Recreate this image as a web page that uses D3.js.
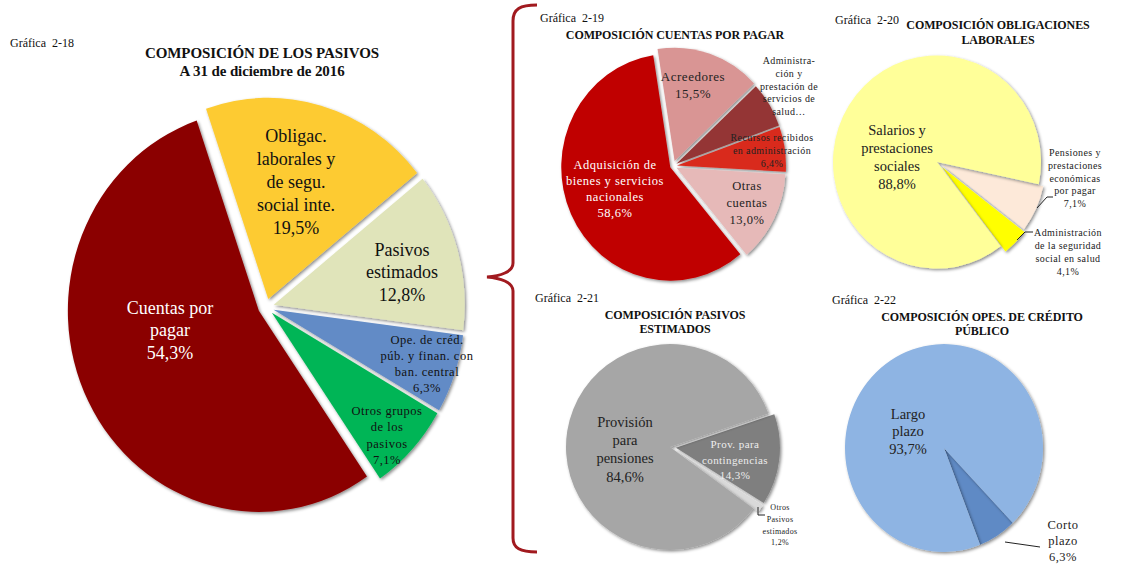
<!DOCTYPE html>
<html>
<head>
<meta charset="utf-8">
<script src="https://cdn.jsdelivr.net/npm/d3@7"></script>
<style>
  body { margin: 0; background: #fff; }
  svg { display: block; font-family: "Liberation Serif", "Times New Roman", serif; }
</style>
</head>
<body>
<div id="contentpane"></div>
<script>
//////////
// Data //
//////////

// Grafica 2-18
var pasivosCats = ["Obligac.|laborales y|de segu.|social inte.", "Pasivos|estimados", "Ope. de créd.|púb. y finan. con|ban. central", "Otros grupos|de los|pasivos", "Cuentas por|pagar"];
var pasivosVals = [19.5, 12.8, 6.3, 7.1, 54.3];

// Grafica 2-19
var cuentasCats = ["Acreedores", "Administra-|ción y|prestación de|servicios de|salud…", "Recursos recibidos|en administración", "Otras|cuentas", "Adquisición de|bienes y servicios|nacionales"];
var cuentasVals = [15.5, 6.5, 6.4, 13.0, 58.6];

// Grafica 2-20
var laboralesCats = ["Pensiones y|prestaciones|económicas|por pagar", "Administración|de la seguridad|social en salud", "Salarios y|prestaciones|sociales"];
var laboralesVals = [7.1, 4.1, 88.8];

// Grafica 2-21
var estimadosCats = ["Prov. para|contingencias", "Otros|Pasivos|estimados", "Provisión|para|pensiones"];
var estimadosVals = [14.3, 1.2, 84.6];

// Grafica 2-22
var creditoCats = ["Corto|plazo", "Largo|plazo"];
var creditoVals = [6.3, 93.7];

////////////
// Layout //
////////////

var width = 1141;
var height = 565;
var svg = d3.select("#contentpane").append("svg")
	.attr("width", width).attr("height", height);

var defs = svg.append("defs");
defs.append("filter").attr("id", "shadow")
	.attr("x", "-20%").attr("y", "-20%").attr("width", "140%").attr("height", "140%")
	.append("feDropShadow")
	.attr("dx", 1.5).attr("dy", 1.5).attr("stdDeviation", 1.6)
	.attr("flood-color", "#000").attr("flood-opacity", 0.45);

var fmt = function(v) { return d3.format(".1f")(v).replace(".", ",") + "%"; };
var rad = Math.PI / 180;

var charts = [
	{ cats: pasivosCats, vals: pasivosVals, cx: 266, cy: 307, r: 191, sy: 1.053, start: -19,
	  colors: ["#FDCB33", "#E0E4BA", "#628BC6", "#00B557", "#8B0000"],
	  explode: [8, 8, 8, 8, 8],
	  labels: [[30, -125], [136, -35], [161, 57], [121, 128], [-96, 23]],
	  size: [18, 18, 12.5, 12.5, 18], lh: [23, 22.5, 16, 16.5, 22.5],
	  fill: ["#111", "#111", "#111", "#111", "#fff"],
	  showVal: [1, 1, 1, 1, 1], leaders: [] },
	{ cats: cuentasCats, vals: cuentasVals, cx: 673, cy: 166, r: 109, sy: 1.04, start: -9,
	  colors: ["#D99594", "#943634", "#D92B1F", "#E6B9B8", "#C00000"],
	  explode: [5, 4, 4, 4, 3],
	  labels: [[20, -81], [116, -80], [99, -16], [74, 37], [-58, 23]],
	  size: [13, 10, 10, 12.5, 12.5], lh: [16.5, 12.8, 13, 17, 16],
	  fill: ["#222", "#222", "#222", "#222", "#fff"],
	  showVal: [1, 0, 1, 1, 1], leaders: [] },
	{ cats: laboralesCats, vals: laboralesVals, cx: 937, cy: 162, r: 104, sy: 1.025, start: 102,
	  colors: ["#FDE9D9", "#FFFF00", "#FFFF99"],
	  explode: [5, 7, 0],
	  labels: [[138, 16], [131, 90], [-40, -5]],
	  size: [10, 10, 14.5], lh: [12.8, 13.3, 17.8],
	  fill: ["#222", "#222", "#222"],
	  showVal: [1, 1, 1],
	  leaders: [[[100, 46], [110, 35], [116, 35]], [[80, 78], [88, 70], [96, 70]]] },
	{ cats: estimadosCats, vals: estimadosVals, cx: 670, cy: 447, r: 104, sy: 0.99, start: 71,
	  colors: ["#7F7F7F", "#D9D9D9", "#A6A6A6"],
	  explode: [6, 6, 0],
	  labels: [[65, 13], [110, 78], [-45, 2]],
	  size: [11, 8, 14.5], lh: [15.5, 11.7, 18.3],
	  fill: ["#EDEDED", "#222", "#222"],
	  showVal: [1, 1, 1],
	  leaders: [[[88, 60], [88, 68], [95, 68]]] },
	{ cats: creditoCats, vals: creditoVals, cx: 944, cy: 448, r: 99, sy: 1.05, start: 136,
	  colors: ["#5F8AC5", "#8EB4E3"],
	  explode: [0, 0],
	  labels: [[119, 93], [-36, -17]],
	  size: [12.5, 14.5], lh: [16, 17.5],
	  fill: ["#222", "#222"],
	  showVal: [1, 1],
	  leaders: [[[61, 94], [96, 99]]] }
];

var titles = [
	{ x: 10, y: 43, t: "Gráfica\u00a0\u00a02-18", s: 12, b: false },
	{ x: 262, y: 53, t: "COMPOSICIÓN DE LOS PASIVOS", s: 15, b: true, m: true },
	{ x: 262, y: 71, t: "A 31 de diciembre de 2016", s: 15, b: true, m: true },
	{ x: 540, y: 18, t: "Gráfica\u00a0\u00a02-19", s: 12, b: false },
	{ x: 675, y: 35, t: "COMPOSICIÓN CUENTAS POR PAGAR", s: 12, b: true, m: true },
	{ x: 835, y: 20, t: "Gráfica\u00a0\u00a02-20", s: 12, b: false },
	{ x: 998, y: 25, t: "COMPOSICIÓN OBLIGACIONES", s: 12, b: true, m: true },
	{ x: 998, y: 40, t: "LABORALES", s: 12, b: true, m: true },
	{ x: 535, y: 298, t: "Gráfica\u00a0\u00a02-21", s: 12, b: false },
	{ x: 675, y: 315, t: "COMPOSICIÓN PASIVOS", s: 12, b: true, m: true },
	{ x: 675, y: 329, t: "ESTIMADOS", s: 12, b: true, m: true },
	{ x: 832, y: 300, t: "Gráfica\u00a0\u00a02-22", s: 12, b: false },
	{ x: 982, y: 317, t: "COMPOSICIÓN OPES. DE CRÉDITO", s: 12, b: true, m: true },
	{ x: 982, y: 331, t: "PÚBLICO", s: 12, b: true, m: true }
];

///////////////
// Functions //
///////////////

function drawPie(c) {
	var pie = d3.pie().sort(null).value(function(d) { return d; })
		.startAngle(c.start * rad).endAngle(c.start * rad + 2 * Math.PI);
	var arcs = pie(c.vals);
	var arc = d3.arc().innerRadius(0).outerRadius(c.r);

	var g = svg.append("g")
		.attr("transform", "translate(" + c.cx + "," + c.cy + ") scale(1," + c.sy + ")");

	g.selectAll("path").data(arcs).enter().append("path")
		.attr("d", arc)
		.attr("fill", function(d, i) { return c.colors[i]; })
		.attr("filter", "url(#shadow)")
		.attr("transform", function(d, i) {
			var a = (d.startAngle + d.endAngle) / 2;
			return "translate(" + (Math.sin(a) * c.explode[i]) + "," + (-Math.cos(a) * c.explode[i]) + ")";
		});

	// Leader lines
	var line = d3.line();
	svg.selectAll(null).data(c.leaders).enter().append("path")
		.attr("d", function(d) { return line(d.map(function(p) { return [c.cx + p[0], c.cy + p[1]]; })); })
		.attr("fill", "none").attr("stroke", "#222").attr("stroke-width", 1);

	// Labels
	arcs.forEach(function(d, i) {
		var lines = c.cats[i].split("|");
		if (c.showVal[i]) lines.push(fmt(c.vals[i]));
		var x = c.cx + c.labels[i][0];
		var y0 = c.cy + c.labels[i][1] - (lines.length - 1) / 2 * c.lh[i];
		var s = c.size[i];
		svg.append("g").selectAll("text").data(lines).enter().append("text")
			.attr("x", x)
			.attr("y", function(t, j) { return y0 + j * c.lh[i]; })
			.attr("dy", "0.35em")
			.attr("text-anchor", "middle")
			.attr("font-size", s + "px")
			.attr("letter-spacing", s <= 13 ? (0.04 * s).toFixed(2) + "px" : "0")
			.attr("fill", c.fill[i])
			.text(function(t) { return t; });
	});
}

///////////////////
// Initial setup //
///////////////////

charts.forEach(drawPie);

// Titles
svg.selectAll("text.title").data(titles).enter().append("text")
	.attr("class", "title")
	.attr("x", function(d) { return d.x; })
	.attr("y", function(d) { return d.y; })
	.attr("dy", "0.35em")
	.attr("text-anchor", function(d) { return d.m ? "middle" : "start"; })
	.attr("font-size", function(d) { return d.s + "px"; })
	.attr("font-weight", function(d) { return d.b ? "bold" : "normal"; })
	.attr("letter-spacing", function(d) { return d.b ? "-0.1px" : "0"; })
	.attr("fill", "#111")
	.text(function(d) { return d.t; });

// Brace
svg.append("path")
	.attr("d", "M537,5 C520,5 513,9 513,21 L513,263 C513,272 500,276 487,277 C500,278 513,282 513,291 L513,538 C513,548 520,552 537,552")
	.attr("fill", "none")
	.attr("stroke", "#A11A1F")
	.attr("stroke-width", 3);
</script>
</body>
</html>
